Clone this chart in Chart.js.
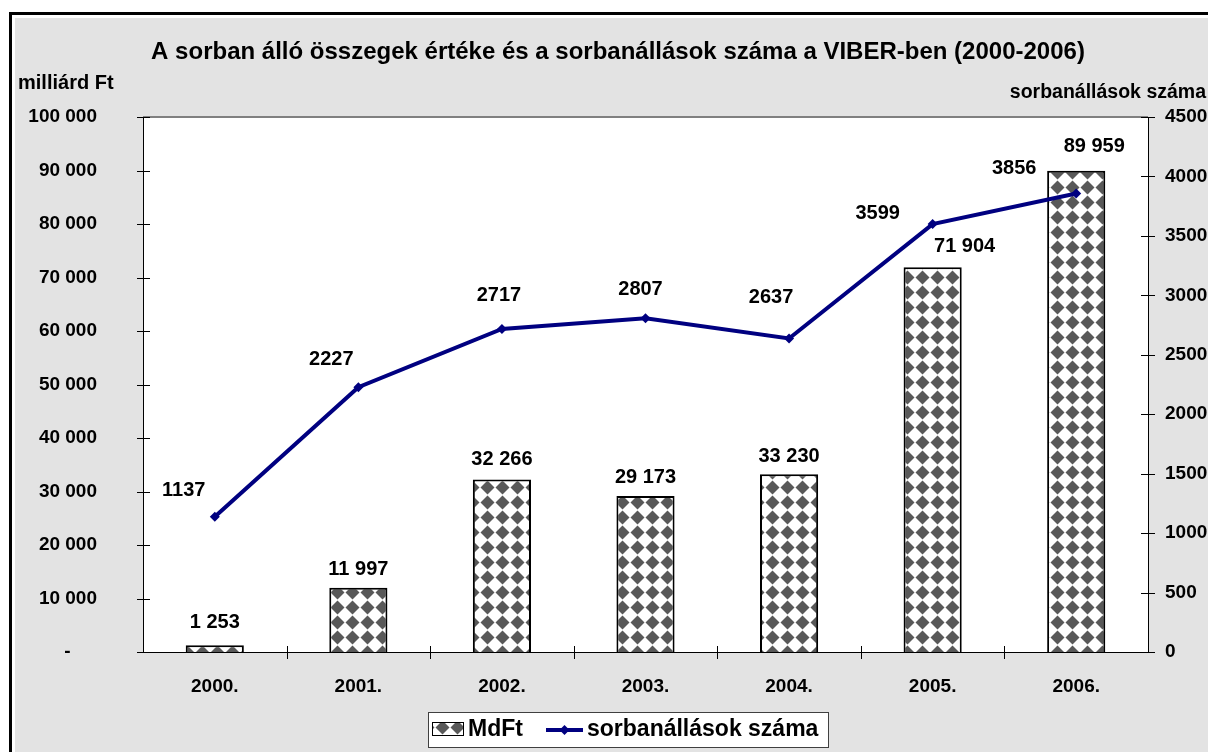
<!DOCTYPE html>
<html>
<head>
<meta charset="utf-8">
<script src="https://cdn.jsdelivr.net/npm/chart.js@4/dist/chart.umd.min.js"></script>
<style>
html,body{margin:0;padding:0;background:#fff;}
#wrap{width:1208px;height:752px;position:relative;}
</style>
</head>
<body>
<div id="wrap"><canvas id="c" width="1208" height="752"></canvas></div>
<script>
// ---- data ----
const categories = ['2000.', '2001.', '2002.', '2003.', '2004.', '2005.', '2006.'];
const mdFtValues = [1253, 11997, 32266, 29173, 33230, 71904, 89959];
const queueCounts = [1137, 2227, 2717, 2807, 2637, 3599, 3856];
const leftAxisMax = 100000;
const leftAxisStep = 10000;
const rightAxisMax = 4500;
const rightAxisStep = 500;
const titleText = 'A sorban álló összegek értéke és a sorbanállások száma a VIBER-ben (2000-2006)';
const leftAxisTitle = 'milliárd Ft';
const rightAxisTitle = 'sorbanállások száma';
const barSeriesName = 'MdFt';
const lineSeriesName = 'sorbanállások száma';

// ---- label placement (style) ----
const barLabelOffsets = [[0,-23],[0,-18],[0,-20],[0,-18],[0,-18],[32,-21],[18,-24]];
const lineLabelOffsets = [[-31,-26],[-27,-28],[-3,-33],[-5,-29],[-18,-41],[-55,-11],[-62,-25]];

const FONT = '"Liberation Sans", Arial, sans-serif';
const NAVY = '#000080';

function fmtSpace(n){ return String(n).replace(/\B(?=(\d{3})+(?!\d))/g, ' '); }

// diamond pattern
function makePattern(ctx){
  const s = 15;
  const pc = document.createElement('canvas');
  pc.width = s; pc.height = s;
  const p = pc.getContext('2d');
  p.fillStyle = '#ffffff';
  p.fillRect(0,0,s,s);
  p.fillStyle = '#595959';
  const c = s/2, h = 7;
  p.beginPath();
  p.moveTo(c, c-h); p.lineTo(c+h, c); p.lineTo(c, c+h); p.lineTo(c-h, c); p.closePath();
  p.fill();
  return ctx.createPattern(pc, 'repeat');
}

const canvas = document.getElementById('c');
const ctx0 = canvas.getContext('2d');
const pattern = makePattern(ctx0);

const bgPlugin = {
  id: 'bg',
  beforeDraw(chart){
    const ctx = chart.ctx, a = chart.chartArea;
    ctx.save();
    ctx.fillStyle = '#ffffff';
    ctx.fillRect(0,0,chart.width,chart.height);
    ctx.fillStyle = '#000000';
    ctx.fillRect(9,12,chart.width,chart.height);
    ctx.fillStyle = '#ffffff';
    ctx.fillRect(12,15,chart.width,chart.height);
    ctx.fillStyle = '#e3e3e3';
    ctx.fillRect(15,18,chart.width,chart.height);
    ctx.fillStyle = '#ffffff';
    ctx.fillRect(a.left, a.top, a.right-a.left, a.bottom-a.top);
    ctx.strokeStyle = '#808080';
    ctx.lineWidth = 2;
    ctx.beginPath();
    ctx.moveTo(a.left, a.top); ctx.lineTo(a.right, a.top);
    ctx.stroke();
    ctx.restore();
  }
};

const decoPlugin = {
  id: 'deco',
  afterDraw(chart){
    const ctx = chart.ctx, a = chart.chartArea;
    const ys = chart.scales.y, ys1 = chart.scales.y1, xs = chart.scales.x;
    ctx.save();
    // crossing ticks
    ctx.strokeStyle = '#000';
    ctx.lineWidth = 1;
    ctx.beginPath();
    ys.ticks.forEach((t,i)=>{
      const y = Math.round(ys.getPixelForTick(i)) + 0.5;
      ctx.moveTo(a.left-6, y); ctx.lineTo(a.left+7, y);
    });
    ys1.ticks.forEach((t,i)=>{
      const y = Math.round(ys1.getPixelForTick(i)) + 0.5;
      ctx.moveTo(a.right-7, y); ctx.lineTo(a.right+7, y);
    });
    for (let i = 0; i < categories.length - 1; i++){
      const x = Math.round((xs.getPixelForValue(i) + xs.getPixelForValue(i+1))/2) + 0.5;
      ctx.moveTo(x, a.bottom-6); ctx.lineTo(x, a.bottom+7);
    }
    ctx.stroke();

    // data labels
    ctx.fillStyle = '#000';
    ctx.textAlign = 'center';
    ctx.textBaseline = 'middle';
    ctx.font = 'bold 20px ' + FONT;
    chart.getDatasetMeta(0).data.forEach((el,i)=>{
      const o = barLabelOffsets[i];
      ctx.fillText(fmtSpace(mdFtValues[i]), el.x + o[0], el.y + o[1]);
    });
    chart.getDatasetMeta(1).data.forEach((el,i)=>{
      const o = lineLabelOffsets[i];
      ctx.fillText(String(queueCounts[i]), el.x + o[0], el.y + o[1]);
    });

    // titles
    ctx.font = 'bold 24px ' + FONT;
    ctx.fillText(titleText, 618, 52);
    ctx.font = 'bold 20px ' + FONT;
    ctx.textAlign = 'left';
    ctx.fillText(leftAxisTitle, 18, 83);
    ctx.font = 'bold 19.5px ' + FONT;
    ctx.textAlign = 'right';
    ctx.fillText(rightAxisTitle, 1206, 93);

    // legend
    const lx = 428, ly = 712, lw = 400, lh = 35;
    ctx.fillStyle = '#fff';
    ctx.fillRect(lx, ly, lw, lh);
    ctx.strokeStyle = '#404040';
    ctx.lineWidth = 1;
    ctx.strokeRect(lx+0.5, ly+0.5, lw, lh);
    ctx.fillStyle = pattern;
    ctx.fillRect(432, 722, 31, 13);
    ctx.strokeStyle = '#000';
    ctx.strokeRect(432.5, 722.5, 31, 13);
    ctx.strokeStyle = NAVY;
    ctx.lineWidth = 4;
    ctx.beginPath(); ctx.moveTo(546, 730); ctx.lineTo(583, 730); ctx.stroke();
    ctx.fillStyle = NAVY;
    ctx.beginPath(); ctx.moveTo(564.5, 725); ctx.lineTo(569.5, 730); ctx.lineTo(564.5, 735); ctx.lineTo(559.5, 730); ctx.closePath(); ctx.fill();
    ctx.fillStyle = '#000';
    ctx.textAlign = 'left';
    ctx.font = 'bold 23px ' + FONT;
    ctx.fillText(barSeriesName, 468, 730);
    ctx.fillText(lineSeriesName, 587, 730);
    ctx.restore();
  }
};

new Chart(canvas, {
  data: {
    labels: categories,
    datasets: [
      {
        type: 'bar',
        label: barSeriesName,
        data: mdFtValues,
        yAxisID: 'y',
        backgroundColor: pattern,
        borderColor: '#000',
        borderWidth: 2,
        barPercentage: 0.405,
        categoryPercentage: 1,
        order: 2
      },
      {
        type: 'line',
        label: lineSeriesName,
        data: queueCounts,
        yAxisID: 'y1',
        borderColor: NAVY,
        backgroundColor: NAVY,
        borderWidth: 4,
        pointStyle: 'rectRot',
        pointRadius: 5,
        pointBorderWidth: 0,
        tension: 0,
        order: 1
      }
    ]
  },
  options: {
    responsive: false,
    animation: false,
    devicePixelRatio: 1,
    layout: { padding: { top: 117, left: 0, right: 0, bottom: 0 } },
    plugins: { legend: { display: false }, tooltip: { enabled: false }, title: { display: false } },
    scales: {
      x: {
        offset: true,
        grid: { display: false, drawTicks: false },
        border: { display: true, color: '#000', width: 1 },
        ticks: { color: '#000', font: { family: FONT, size: 19, weight: 'bold' }, padding: 23 },
        afterFit(s){ s.height = 100; }
      },
      y: {
        position: 'left',
        min: 0, max: leftAxisMax,
        grid: { display: false, drawTicks: false },
        border: { display: true, color: '#000', width: 1 },
        ticks: {
          stepSize: leftAxisStep,
          color: '#000',
          font: { family: FONT, size: 19, weight: 'bold' },
          padding: 46,
          callback: v => v === 0 ? '-     ' : fmtSpace(v)
        },
        afterFit(s){ s.width = 143; }
      },
      y1: {
        position: 'right',
        min: 0, max: rightAxisMax,
        grid: { display: false, drawTicks: false },
        border: { display: true, color: '#000', width: 1 },
        ticks: {
          stepSize: rightAxisStep,
          color: '#000',
          font: { family: FONT, size: 19, weight: 'bold' },
          padding: 17,
          callback: v => String(v)
        },
        afterFit(s){ s.width = 60; }
      }
    }
  },
  plugins: [bgPlugin, decoPlugin]
});
</script>
</body>
</html>
